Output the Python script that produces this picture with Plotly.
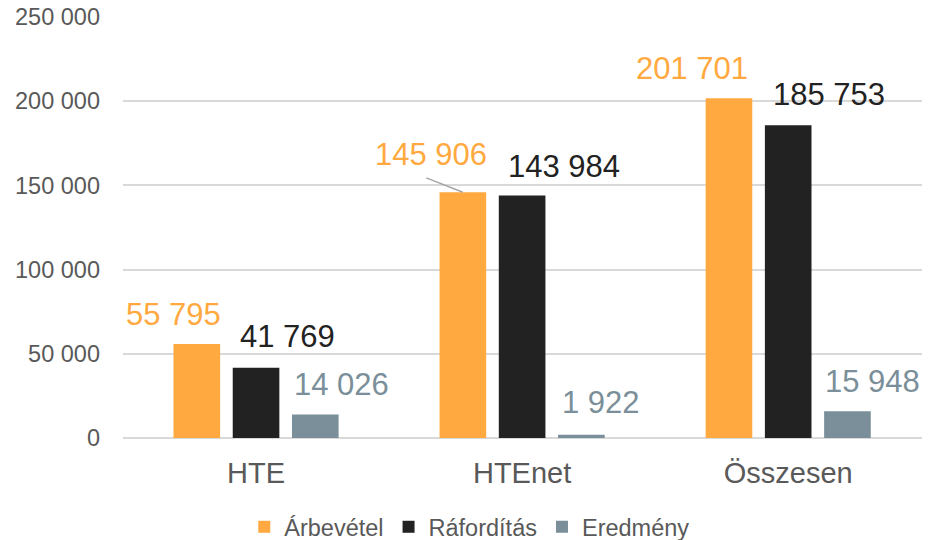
import plotly.graph_objects as go

categories = ["HTE", "HTEnet", "Összesen"]
series_names = ["Árbevétel", "Ráfordítás", "Eredmény"]
arbevetel = [55795, 145906, 201701]
raforditas = [41769, 143984, 185753]
eredmeny = [14026, 1922, 15948]
y_tick_vals = [0, 50000, 100000, 150000, 200000, 250000]
y_tick_text = ["0", "50 000", "100 000", "150 000", "200 000", "250 000"]

colors = ["#FFA940", "#222222", "#7A8F99"]
series = [arbevetel, raforditas, eredmeny]

W, H = 934, 540
ML, MR, MT, MB = 123, 12, 17, 102
BARGAP = 0.332
GROUPGAP = 0.213
FONT = "Liberation Sans, Arial, sans-serif"

fig = go.Figure()
for name, vals, col in zip(series_names, series, colors):
    fig.add_trace(go.Bar(x=categories, y=vals, name=name,
                         marker=dict(color=col, line=dict(width=0))))

# label offsets (pixels) relative to bar top center: (dx, dy up)
label_offsets = [
    [(-23, 30), (-32, 38), (-37, 30)],
    [(31, 31), (42, 29), (41, 31)],
    [(26, 30), (20, 32), (25, 30)],
]

plot_w = W - ML - MR
plot_h = H - MT - MB
cat_w = plot_w / len(categories)
slot = cat_w * (1 - BARGAP) / len(series)
annotations = []
for si, (vals, col) in enumerate(zip(series, colors)):
    bar_off = (si - 1) * slot
    for ci, v in enumerate(vals):
        dx, dy = label_offsets[si][ci]
        annotations.append(dict(
            x=categories[ci], y=v, xref="x", yref="y",
            text=f"{v:,}".replace(",", " "), showarrow=False,
            xanchor="center", yanchor="middle",
            xshift=bar_off + dx, yshift=dy,
            font=dict(family=FONT, size=31, color=col)))

# leader line for HTEnet Árbevétel label
annotations.append(dict(
    x=categories[1], y=arbevetel[1], xref="x", yref="y",
    text="", showarrow=True, arrowhead=0, arrowwidth=1.5, arrowcolor="#A6A6A6",
    ax=-38, ay=-15, xshift=-slot, standoff=0, startstandoff=0,
    font=dict(size=1)))

fig.update_layout(
    width=W, height=H,
    margin=dict(l=ML, r=MR, t=MT, b=MB, autoexpand=False),
    paper_bgcolor="white", plot_bgcolor="white",
    barmode="group", bargap=BARGAP, bargroupgap=GROUPGAP,
    font=dict(family=FONT, color="#595959"),
    showlegend=True,
    legend=dict(orientation="h", x=0.434, xanchor="center",
                y=-(527 - (MT + plot_h)) / plot_h, yref="paper",
                yanchor="middle", font=dict(size=23.5, color="#595959"),
                traceorder="normal", itemclick=False),
    annotations=annotations,
)
fig.update_xaxes(showgrid=False, showline=False, ticks="", automargin=False,
                 tickfont=dict(size=29, color="#595959"), ticklabelstandoff=15)
fig.update_yaxes(range=[0, 250000], tickvals=y_tick_vals, ticktext=y_tick_text,
                 showgrid=True, gridcolor="#D9D9D9", gridwidth=1.5, automargin=False,
                 zeroline=True, zerolinecolor="#D9D9D9", zerolinewidth=1.5,
                 showline=False, ticks="", ticklabelstandoff=22,
                 tickfont=dict(size=23.5, color="#595959"))

fig.write_html("out.html", config={"displayModeBar": False},
               post_script="document.body.style.margin='0';document.body.style.overflow='hidden';")
